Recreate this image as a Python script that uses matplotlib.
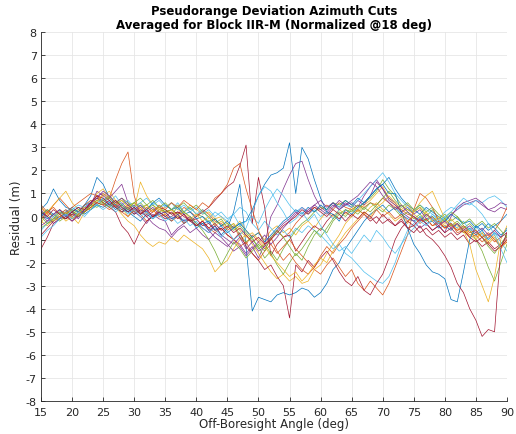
import matplotlib.pyplot as plt

plt.rcParams['axes.unicode_minus'] = False

# off-boresight angle grid (deg)
angles = list(range(15, 91))

# residuals per azimuth cut (m), one value per degree 15..90
cut01 = [0.3, 0.6, 1.2, 0.7, 0.4, 0.3, 0.2, 0.5, 0.6, 0.8,
         0.7, 0.5, 0.4, 0.2, 0.3, 0.1, 0.3, 0.2, 0.0, 0.1,
         0.2, -0.1, 0.0, -0.2, -0.1, -0.4, -0.3, -0.6, -0.4, -0.8,
         -0.5, 0.2, 1.4, -1.3, -4.1, -3.5, -3.6, -3.7, -3.4, -3.3,
         -3.4, -3.3, -3.1, -3.2, -3.5, -3.3, -2.9, -2.3, -2.0, -1.4,
         -1.0, -0.6, -0.2, 0.1, 0.3, 0.5, 0.2, 0.4, 0.1, -0.1,
         -0.2, 0.0, -0.3, -0.2, -0.5, -0.4, -0.6, -0.3, -0.7, -0.5,
         -0.8, -0.6, -1.0, -0.7, -0.9, -0.5]
cut02 = [0.4, 0.1, 0.5, 0.8, 0.5, 0.2, 0.0, 0.3, 0.6, 0.9,
         0.7, 0.8, 1.6, 2.3, 2.8, 0.9, 0.1, -0.2, 0.0, 0.3,
         0.2, 0.3, 0.1, 0.4, 0.2, 0.0, 0.3, 0.1, -0.2, -0.3,
         -0.6, -0.4, -0.9, -1.2, -0.8, -1.1, -1.4, -1.0, -0.6, -0.9,
         -0.7, -0.3, 0.0, 0.2, 0.4, 0.3, 0.5, 0.3, 0.6, 0.4,
         0.3, 0.5, 0.4, 0.6, 0.5, 0.8, 0.6, 0.4, 0.3, 0.1,
         0.0, -0.2, -0.1, -0.4, -0.3, -0.5, -0.4, -0.6, -0.5, -0.8,
         -0.7, -0.9, -0.8, -1.1, -0.9, -0.7]
cut03 = [-0.3, 0.2, 0.5, 0.8, 1.1, 0.6, 0.3, 0.2, 0.4, 0.7,
         0.9, 1.1, 0.7, 0.4, 0.0, 0.3, 1.5, 0.9, 0.5, 0.3,
         0.4, 0.6, 0.3, 0.2, 0.5, 0.3, 0.1, 0.2, -0.1, 0.0,
         -0.3, -0.5, -0.2, -0.6, -0.9, -0.7, -1.0, -0.6, -0.4, -0.7,
         -0.5, -0.8, -0.4, -0.2, -0.5, -0.1, 0.2, 0.0, 0.3, 0.1,
         0.4, 0.2, 0.5, 0.7, 1.0, 1.3, 0.8, 0.5, 0.2, 0.3,
         0.1, -0.1, 0.2, -0.2, -0.1, -0.4, -0.3, -0.5, -0.7, -0.6,
         -0.9, -0.7, -1.1, -0.8, -1.3, -1.0]
cut04 = [0.1, -0.2, -0.1, 0.0, 0.2, -0.1, 0.1, 0.4, 0.6, 0.9,
         1.0, 0.8, 1.1, 1.4, 0.6, 0.2, 0.0, -0.3, 0.1, -0.1,
         -0.2, -0.8, -0.5, -0.3, -0.1, -0.4, -0.2, -0.6, -0.9, -1.1,
         -1.3, -1.0, -1.2, -1.6, -1.3, -1.8, -1.2, 0.0, 0.5, 1.2,
         1.8, 2.3, 2.4, 1.6, 0.9, 0.4, 0.2, 0.5, 0.3, 0.6,
         0.4, 0.7, 0.5, 0.9, 1.5, 1.2, 0.8, 0.6, 0.2, 0.4,
         0.1, 0.3, -0.1, 0.0, -0.3, -0.2, 0.1, 0.3, 0.5, 0.6,
         0.7, 0.5, 0.3, 0.2, 0.4, 0.3]
cut05 = [-0.5, -0.3, -0.2, 0.0, -0.1, 0.1, 0.3, 0.2, 0.5, 0.7,
         0.6, 0.8, 0.5, 0.7, 0.5, 0.6, 0.4, 0.5, 0.3, 0.4,
         0.2, 0.3, 0.1, 0.2, 0.4, 0.1, 0.0, -0.2, -0.1, -0.4,
         -0.3, -0.6, -0.4, -0.7, -1.0, -1.3, -1.8, -1.5, -1.9, -1.4,
         -1.0, -0.6, -0.3, -0.1, 0.2, 0.4, 0.3, 0.6, 0.5, 0.7,
         0.5, 0.3, 0.6, 0.8, 1.1, 1.6, 1.2, 0.9, 0.5, 0.3,
         0.2, 0.4, 0.0, 0.3, -0.1, 0.1, -0.2, 0.0, -0.4, -0.6,
         -1.0, -1.5, -2.2, -2.8, -2.0, -1.2]
cut06 = [0.2, 0.0, -0.2, 0.1, 0.3, 0.0, 0.2, 0.4, 0.3, 0.6,
         0.8, 0.6, 0.5, 0.3, 0.4, 0.2, 0.5, 0.3, 0.6, 0.4,
         0.5, 0.3, 0.6, 0.2, 0.4, 0.1, 0.3, -0.1, 0.2, 0.0,
         -0.2, 0.1, 0.4, 0.2, -0.3, -0.6, -0.2, -0.5, -0.8, -0.6,
         -0.9, -0.5, -0.7, -0.4, -0.6, -0.8, -1.1, -1.4, -1.2, -1.6,
         -1.8, -2.1, -2.4, -2.6, -2.8, -2.9, -2.6, -2.0, -1.2, -0.6,
         -0.3, 0.0, -0.2, 0.1, -0.1, 0.2, 0.4, 0.3, 0.6, 0.5,
         0.7, 0.6, 0.8, 0.9, 0.7, 0.4]
cut07 = [-1.4, -0.9, -0.3, -0.1, 0.0, -0.2, 0.1, 0.3, 0.5, 0.8,
         0.6, 0.4, 0.2, -0.4, -0.7, -1.2, -0.6, -0.2, 0.0, 0.1,
         -0.1, 0.0, 0.2, 0.1, -0.2, 0.0, 0.2, 0.4, 0.7, 1.0,
         1.3, 1.5, 2.2, 3.1, -0.3, 1.7, 0.4, -1.7, -1.2, -0.9,
         -0.8, -1.5, -1.1, -0.7, -0.4, -0.6, -0.2, 0.1, -0.1, 0.2,
         0.0, 0.3, 0.1, -0.2, 0.0, -0.3, -0.1, -0.4, -0.2, -0.5,
         -0.4, -0.7, -0.5, -0.8, -0.6, -0.9, -0.7, -1.0, -0.8, -1.2,
         -1.0, -1.3, -1.1, -1.4, -1.2, -0.9]
cut08 = [0.0, 0.3, 0.1, -0.1, 0.2, 0.4, 0.2, 0.5, 0.9, 1.7,
         1.4, 0.8, 0.5, 0.3, 0.2, 0.0, -0.2, 0.1, -0.1, 0.2,
         0.0, -0.2, 0.1, -0.3, -0.1, -0.5, -0.3, -0.2, -0.6, -0.4,
         -0.7, -0.5, -0.3, -0.2, 0.3, 0.9, 1.4, 1.8, 1.9, 2.1,
         3.2, 1.0, 3.0, 2.5, 1.6, 0.8, 0.2, 0.1, -0.2, 0.3,
         0.1, 0.4, 0.6, 0.9, 1.2, 1.4, 1.7, 1.2, 0.8, 0.5,
         0.3, 0.1, 0.4, 0.2, 0.0, -0.2, 0.1, -0.1, -0.3, -0.2,
         -0.5, -0.3, -0.6, -0.4, -0.2, 0.1]
cut09 = [0.5, 0.2, 0.0, 0.3, 0.1, 0.4, 0.6, 0.8, 1.0, 0.9,
         0.6, 0.4, 0.6, 0.3, 0.5, 0.2, 0.4, 0.1, 0.3, 0.0,
         0.1, -0.2, 0.0, -0.3, -0.1, -0.4, -0.2, -0.5, -0.7, -0.5,
         -0.8, -1.0, -1.3, -1.1, -1.6, -1.9, -1.5, -1.2, -1.6, -1.3,
         -1.0, -1.4, -1.7, -2.0, -2.3, -2.5, -2.1, -1.8, -2.2, -2.6,
         -2.3, -2.9, -3.2, -2.8, -3.1, -3.4, -2.9, -2.2, -1.5, -0.8,
         0.3, 1.0, 0.8, 0.4, -0.2, -0.5, -0.3, -0.7, -0.6, -0.9,
         -0.8, -1.1, -0.9, -0.6, -0.2, 0.4]
cut10 = [-0.2, -0.4, -0.1, 0.1, -0.2, 0.0, -0.3, 0.2, 0.4, 0.6,
         1.0, 0.7, 0.4, 0.1, -0.2, -0.4, -0.8, -1.1, -1.3, -1.1,
         -1.2, -0.9, -1.1, -0.8, -1.0, -1.2, -1.4, -1.8, -2.4, -2.1,
         -1.9, -1.4, -1.0, -0.8, -1.2, -1.6, -2.0, -2.4, -2.7, -2.5,
         -2.8, -2.6, -2.9, -2.8, -2.3, -2.1, -1.6, -1.2, -0.8, -0.3,
         0.0, 0.3, 0.1, 0.4, 0.6, 0.3, 0.1, -0.2, 0.0, -0.3,
         0.2, 0.6, 0.9, 1.1, 0.5, -0.1, -0.4, -0.3, -0.6, -0.8,
         -1.0, -0.7, -1.2, -0.9, -1.4, -1.1]
cut11 = [0.3, 0.0, -0.3, -0.1, 0.1, -0.2, 0.0, 0.3, 0.5, 1.1,
         0.9, 0.7, 0.4, 0.6, 0.3, 0.5, 0.2, 0.0, -0.3, -0.5,
         -0.6, -0.9, -0.6, -0.4, -0.7, -0.5, -0.8, -1.0, -0.7, -0.9,
         -1.2, -1.5, -1.3, -1.7, -1.4, -1.1, -0.8, -1.2, -0.9, -0.5,
         -0.2, 0.1, 0.4, 0.2, 0.5, 0.3, 0.1, 0.4, 0.7, 0.5,
         0.6, 0.4, 0.9, 1.3, 1.6, 1.2, 0.7, 0.5, 0.2, 0.0,
         -0.2, -0.5, -0.3, -0.6, -0.4, -0.7, 0.0, 0.4, 0.6, 0.7,
         0.8, 0.6, 0.3, 0.4, 0.6, 0.5]
cut12 = [0.1, 0.3, 0.0, -0.2, 0.0, 0.2, 0.1, 0.4, 0.3, 0.5,
         0.7, 0.9, 0.6, 0.8, 0.6, 0.4, 0.6, 0.3, 0.5, 0.2,
         0.3, 0.1, 0.4, 0.6, 0.3, 0.5, 0.2, 0.0, -0.3, -0.1,
         -0.5, -0.3, -0.8, -1.1, -0.9, -1.4, -1.2, -1.6, -2.1, -2.5,
         -2.0, -1.6, -1.9, -1.3, -0.8, -0.5, -0.7, -0.2, 0.1, 0.3,
         0.2, 0.5, 0.3, 0.6, 0.4, 0.2, 0.5, 0.3, 0.0, 0.2,
         -0.1, 0.1, -0.2, 0.0, -0.3, -0.1, -0.4, -0.2, -0.5, -0.3,
         -0.6, -0.9, -1.3, -1.6, -1.2, -0.8]
cut13 = [-0.6, -0.3, 0.0, 0.2, 0.0, 0.3, 0.5, 0.4, 0.7, 0.5,
         0.8, 0.6, 0.9, 0.5, 0.7, 0.4, 0.6, 0.8, 0.5, 0.7,
         0.4, 0.6, 0.3, 0.5, 0.2, 0.4, 0.1, 0.3, 0.0, 0.2,
         -0.1, 0.1, -0.4, -0.2, 0.0, -0.3, 0.3, 0.8, 1.2, 0.9,
         0.5, 0.2, 0.4, 0.1, 0.3, 0.0, 0.2, -0.1, 0.3, 0.5,
         0.4, 0.7, 1.0, 1.3, 1.6, 1.9, 1.5, 1.0, 0.7, 0.4,
         0.2, 0.5, 0.3, 0.1, -0.2, 0.0, -0.3, -0.5, -0.2, -0.6,
         -0.4, -0.8, -1.0, -0.7, -1.1, -1.5]
cut14 = [-0.8, -0.5, -0.2, 0.0, -0.1, 0.1, 0.0, 0.2, 0.4, 0.6,
         0.5, 0.7, 0.4, 0.2, 0.4, 0.1, 0.3, 0.0, 0.2, 0.4,
         0.3, 0.1, 0.2, 0.0, -0.2, -0.1, -0.4, -0.3, -0.6, -0.5,
         -0.8, -1.0, -0.7, -1.3, -1.6, -1.9, -2.3, -2.1, -2.6, -3.0,
         -4.4, -2.1, -2.4, -1.9, -2.2, -1.8, -1.5, -1.9, -2.4, -2.8,
         -3.0, -2.6, -3.2, -3.4, -2.9, -2.5, -1.8, -1.0, -0.5, -0.2,
         -0.4, -0.1, -0.3, -0.6, -0.4, -0.7, -0.5, -0.8, -0.6, -0.9,
         -1.1, -0.9, -1.2, -1.5, -1.3, -1.0]
cut15 = [0.2, -0.1, 0.1, 0.3, 0.0, 0.2, 0.4, 0.1, 0.3, 0.5,
         0.4, 0.6, 0.3, 0.5, 0.2, 0.4, 0.1, 0.3, 0.6, 0.8,
         0.5, 0.3, 0.4, 0.1, 0.2, -0.1, 0.0, -0.3, -0.1, -0.4,
         -0.2, -0.5, -0.3, -0.6, -0.9, -0.7, -1.1, -0.8, -0.5, -0.2,
         0.0, 0.3, 0.1, 0.4, 0.2, 0.5, 0.3, 0.6, 0.4, 0.7,
         0.5, 0.8, 0.6, 0.9, 1.2, 1.4, 1.0, 1.0, 0.2, -0.5,
         -1.2, -1.6, -2.1, -2.4, -2.5, -2.7, -3.6, -3.7, -2.4, -1.0,
         -0.4, -0.6, -0.3, -0.5, -0.8, -0.6]
cut16 = [-0.1, 0.2, 0.4, 0.1, 0.3, 0.0, 0.2, 0.5, 0.7, 0.6,
         0.5, 0.3, 0.5, 0.2, 0.0, 0.3, 0.1, 0.4, 0.2, 0.5,
         0.3, 0.6, 0.4, 0.7, 0.5, 0.3, 0.6, 0.4, 0.8, 1.0,
         1.4, 2.1, 2.3, 1.2, 0.3, -0.6, -1.2, -0.9, -1.5, -1.9,
         -1.6, -2.0, -2.3, -2.5, -2.2, -1.7, -1.3, -1.6, -1.2, -0.9,
         -0.5, -0.2, 0.1, -0.1, 0.3, 0.0, 0.2, -0.1, 0.1, -0.2,
         0.0, -0.3, -0.1, -0.4, -0.2, -0.5, -0.3, -0.6, -0.4, -0.7,
         -0.6, -0.9, -0.7, -1.0, -1.3, -1.1]
cut17 = [0.4, 0.1, -0.2, 0.0, 0.2, -0.1, 0.1, 0.4, 0.3, 1.0,
         1.2, 0.8, 0.6, 0.7, 0.4, 0.6, 0.3, 0.5, 0.2, 0.4,
         0.1, 0.3, 0.0, 0.2, -0.1, 0.1, -0.2, 0.0, -0.4, -0.2,
         -0.5, -0.3, -0.6, -0.9, -0.7, -1.0, -1.3, -1.7, -2.0, -2.3,
         -2.6, -2.4, -2.8, -2.5, -2.1, -1.8, -2.0, -1.5, -1.1, -0.7,
         -0.4, -0.1, 0.2, 0.0, 0.4, 0.6, 0.9, 0.6, 0.3, 0.5,
         0.2, 0.4, 0.1, -0.2, 0.0, -0.3, -0.1, -0.4, -0.6, -1.2,
         -2.3, -3.0, -3.7, -2.6, -1.0, -0.4]
cut18 = [-0.4, -0.2, 0.1, 0.3, 0.0, 0.2, -0.1, 0.3, 0.6, 0.8,
         1.1, 0.9, 0.6, 0.8, 0.5, 0.3, 0.5, 0.2, 0.4, 0.1,
         0.2, -0.1, 0.1, -0.2, 0.0, -0.3, -0.5, -0.7, -0.4, -0.8,
         -1.0, -1.2, -0.9, -1.4, -1.1, -1.5, -1.3, -0.9, -0.6, -0.3,
         -0.1, 0.2, 0.0, 0.3, 0.5, 0.7, 0.4, 0.6, 0.3, 0.5,
         0.7, 0.9, 1.2, 1.5, 1.3, 0.9, 0.6, 0.3, 0.5, 0.2,
         0.0, -0.2, 0.1, -0.1, -0.4, -0.2, -0.5, -0.3, -0.6, -0.4,
         -0.7, -0.5, -0.8, -0.6, -0.9, -0.7]
cut19 = [0.0, -0.3, -0.1, 0.2, 0.1, 0.3, 0.0, 0.2, 0.5, 0.4,
         0.6, 0.4, 0.7, 0.5, 0.3, 0.6, 0.8, 0.5, 0.7, 0.4,
         0.6, 0.3, 0.5, 0.2, 0.0, -0.3, -0.6, -1.0, -1.5, -2.1,
         -1.6, -1.1, -1.4, -1.8, -1.5, -1.2, -1.5, -0.9, -0.6, -0.9,
         -1.3, -1.7, -1.4, -1.0, -0.6, -0.9, -0.5, -0.1, 0.2, 0.0,
         0.3, 0.1, 0.4, 0.2, 0.5, 0.8, 1.1, 0.7, 0.4, 0.6,
         0.3, 0.5, 0.2, 0.4, 0.1, -0.1, 0.2, 0.0, -0.3, -0.1,
         -0.4, -0.2, -0.5, -0.3, -0.6, -0.9]
cut20 = [-0.9, -0.6, -0.4, -0.1, 0.1, -0.1, 0.2, 0.0, 0.3, 0.5,
         0.3, 0.5, 0.2, 0.4, 0.1, 0.3, 0.0, 0.2, -0.1, 0.1,
         -0.2, 0.0, -0.3, -0.1, -0.4, -0.2, -0.5, -0.7, -0.5, -0.9,
         -0.6, -1.0, -0.8, -0.5, 0.2, 0.9, 1.3, 1.1, 0.6, 0.2,
         -0.3, -0.1, 0.2, -0.2, 0.1, -0.4, -0.8, -1.2, -1.5, -1.3,
         -1.6, -1.2, -0.8, -1.1, -0.6, -0.9, -1.3, -1.6, -1.2, -0.8,
         -0.5, -0.2, -0.4, -0.1, -0.3, 0.0, 0.2, 0.5, 0.8, 0.6,
         0.4, 0.1, -0.3, -0.8, -1.4, -2.0]
cut21 = [0.2, 0.0, 0.3, 0.1, -0.1, 0.2, 0.4, 0.3, 0.6, 0.9,
         0.8, 0.5, 0.7, 0.4, 0.2, 0.4, 0.1, 0.3, 0.0, 0.2,
         0.0, 0.2, -0.1, 0.1, -0.2, -0.4, -0.2, -0.5, -0.3, -0.6,
         -0.4, -0.7, -0.5, -0.8, -1.1, -0.9, -1.2, -1.0, -0.7, -0.4,
         -0.2, 0.0, 0.3, 0.1, 0.4, 0.2, 0.0, 0.3, 0.1, -0.2,
         0.1, -0.1, 0.2, 0.0, -0.3, 0.1, -0.2, -0.4, -0.1, -0.5,
         -0.7, -0.4, -0.8, -1.0, -1.3, -1.7, -2.2, -2.9, -3.3, -4.0,
         -4.5, -5.2, -4.9, -5.0, -1.4, -0.7]

cuts = [cut01, cut02, cut03, cut04, cut05, cut06, cut07,
        cut08, cut09, cut10, cut11, cut12, cut13, cut14,
        cut15, cut16, cut17, cut18, cut19, cut20, cut21]

# default MATLAB line colour order
colors = ['#0072BD', '#D95319', '#EDB120', '#7E2F8E',
          '#77AC30', '#4DBEEE', '#A2142F']

fig = plt.figure(figsize=(5.16, 4.35), dpi=100)
ax = fig.add_axes([0.0795, 0.0759, 0.903, 0.848])

for i, res in enumerate(cuts):
    ax.plot(angles, res, color=colors[i % len(colors)], linewidth=0.5)

ax.set_xlim(15, 90)
ax.set_ylim(-8, 8)
ax.set_xticks(range(15, 91, 5))
ax.set_yticks(range(-8, 9))
ax.grid(True, color='#e6e6e6', linewidth=0.6)
ax.set_axisbelow(True)

for side in ['top', 'right']:
    ax.spines[side].set_visible(False)
for side in ['left', 'bottom']:
    ax.spines[side].set_color('#262626')
    ax.spines[side].set_linewidth(0.6)
ax.tick_params(direction='in', length=3, width=0.6, colors='#262626',
               labelsize=8)
ax.tick_params(axis='x', pad=4)
ax.tick_params(axis='y', pad=3)

ax.set_xlabel('Off-Boresight Angle (deg)', fontsize=8.5, color='#262626', labelpad=0)
ax.set_ylabel('Residual (m)', fontsize=8.5, color='#262626', labelpad=2)
ax.set_title('Pseudorange Deviation Azimuth Cuts\nAveraged for Block IIR-M (Normalized @18 deg)',
             fontsize=8.5, fontweight='bold', color='black', pad=3, linespacing=1.1)

fig.savefig('out.png', dpi=100)
plt.close(fig)
